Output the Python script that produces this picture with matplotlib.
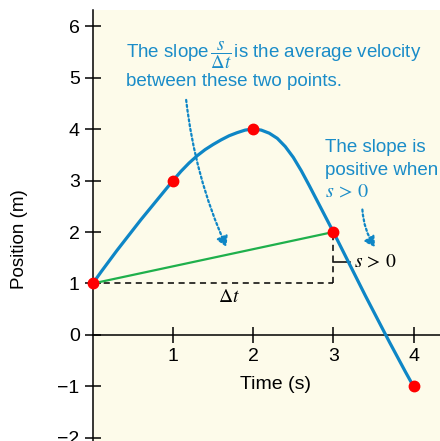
import matplotlib
matplotlib.use("Agg")
import matplotlib.pyplot as plt

plt.rcParams['font.family'] = ['Liberation Sans', 'DejaVu Sans']
plt.rcParams['mathtext.fontset'] = 'stix'

# position curve, sampled every 0.1 s along the drawn trajectory
curve_t = [0.0, 0.1, 0.2, 0.3, 0.4, 0.5, 0.6, 0.7, 0.8, 0.9, 1.0,
           1.1, 1.2, 1.3, 1.4, 1.5, 1.6, 1.7, 1.8, 1.9, 2.0,
           2.1, 2.2, 2.3, 2.4, 2.5, 2.6, 2.7, 2.8, 2.9, 3.0,
           3.1, 3.2, 3.3, 3.4, 3.5, 3.6, 3.7, 3.8, 3.9, 4.0]
curve_s = [1.0, 1.22, 1.43, 1.64, 1.84, 2.04, 2.24, 2.43, 2.62, 2.81, 3.0,
           3.18, 3.34, 3.48, 3.60, 3.70, 3.79, 3.87, 3.93, 3.98, 4.0,
           3.98, 3.92, 3.82, 3.66, 3.45, 3.19, 2.90, 2.60, 2.30, 2.0,
           1.69, 1.38, 1.07, 0.76, 0.46, 0.16, -0.14, -0.43, -0.72, -1.0]

# marked points
pt_t = [0, 1, 2, 3, 4]
pt_s = [1, 3, 4, 2, -1]

# secant between t=0 and t=3
sec_t = [0, 3]
sec_s = [1, 2]

x_ticks = [1, 2, 3, 4]
y_ticks = [-2, -1, 0, 1, 2, 3, 4, 5, 6]

blue = '#0e86c6'
text_blue = '#1a8cc8'
cream = '#fdfbea'

fig = plt.figure(figsize=(4.4, 4.41), dpi=100)
ax = fig.add_axes([0.211, 0.0, 0.789, 0.977])
ax.set_facecolor(cream)
ax.set_xlim(0, 4.33)
ax.set_ylim(-2.06, 6.31)

for side in ['top', 'right']:
    ax.spines[side].set_visible(False)
ax.spines['bottom'].set_position(('data', 0))
ax.spines['left'].set_position(('data', 0))
for side in ['bottom', 'left']:
    ax.spines[side].set_linewidth(1.1)

ax.set_xticks(x_ticks)
ax.set_yticks(y_ticks)
ax.set_yticklabels([str(v).replace('-', '\u2212') for v in y_ticks])
ax.tick_params(direction='inout', length=11, width=1.1, labelsize=14, pad=4)

# curve, secant and marked points
ax.plot(curve_t, curve_s, color=blue, lw=2.3, solid_capstyle='round',
        solid_joinstyle='round', zorder=3)
ax.plot(sec_t, sec_s, color='#1fb04c', lw=1.6, zorder=3)
ax.plot(pt_t, pt_s, 'o', color='#ff0000', ms=7.5, zorder=5, clip_on=False)

# delta t / delta s guides
ax.plot([sec_t[0], sec_t[1]], [sec_s[0], sec_s[0]], color='black', lw=1.1, ls=(0, (4, 3)), zorder=2)
ax.plot([sec_t[1], sec_t[1]], [sec_s[0], sec_s[1]], color='black', lw=1.1, ls=(0, (4, 3)), zorder=2)
ax.text(1.7, 0.72, r'$\Delta t$', fontsize=14, ha='center', va='center')
ax.plot([3.0, 3.21], [1.42, 1.42], color='black', lw=1.1, zorder=2)
ax.text(3.26, 1.42, r'$s\,>\,0$', fontsize=14, ha='left', va='center')

# annotations
ax.text(0.41, 5.38, r'The slope$\,\dfrac{s}{\Delta t}\,$is the average velocity',
        color=text_blue, fontsize=13.5, ha='left', va='baseline')
ax.text(0.41, 4.83, 'between these two points.',
        color=text_blue, fontsize=13.5, ha='left', va='baseline')
ax.text(2.89, 3.65, 'The slope is', color=text_blue, fontsize=13.5, ha='left', va='center')
ax.text(2.89, 3.2, 'positive when', color=text_blue, fontsize=13.5, ha='left', va='center')
ax.text(2.89, 2.8, r'$s\,>\,0$', color=text_blue, fontsize=14.5, ha='left', va='center')

arrow_kw = dict(arrowstyle='-|>,head_length=0.6,head_width=0.35', color=blue,
                lw=1.6, ls=(0, (1, 1.2)))
ax.annotate('', xy=(1.68, 1.66), xytext=(1.16, 4.62),
            arrowprops=dict(connectionstyle='arc3,rad=0.08', **arrow_kw))
ax.annotate('', xy=(3.54, 1.66), xytext=(3.36, 2.49),
            arrowprops=dict(connectionstyle='arc3,rad=0.15', **arrow_kw))

ax.text(2.28, -0.97, 'Time (s)', fontsize=14, ha='center', va='center')
fig.text(20 / 440, 1 - 239 / 441, 'Position (m)', fontsize=13.5,
         rotation=90, ha='center', va='center')

fig.savefig('out.png', dpi=100, facecolor='white')
